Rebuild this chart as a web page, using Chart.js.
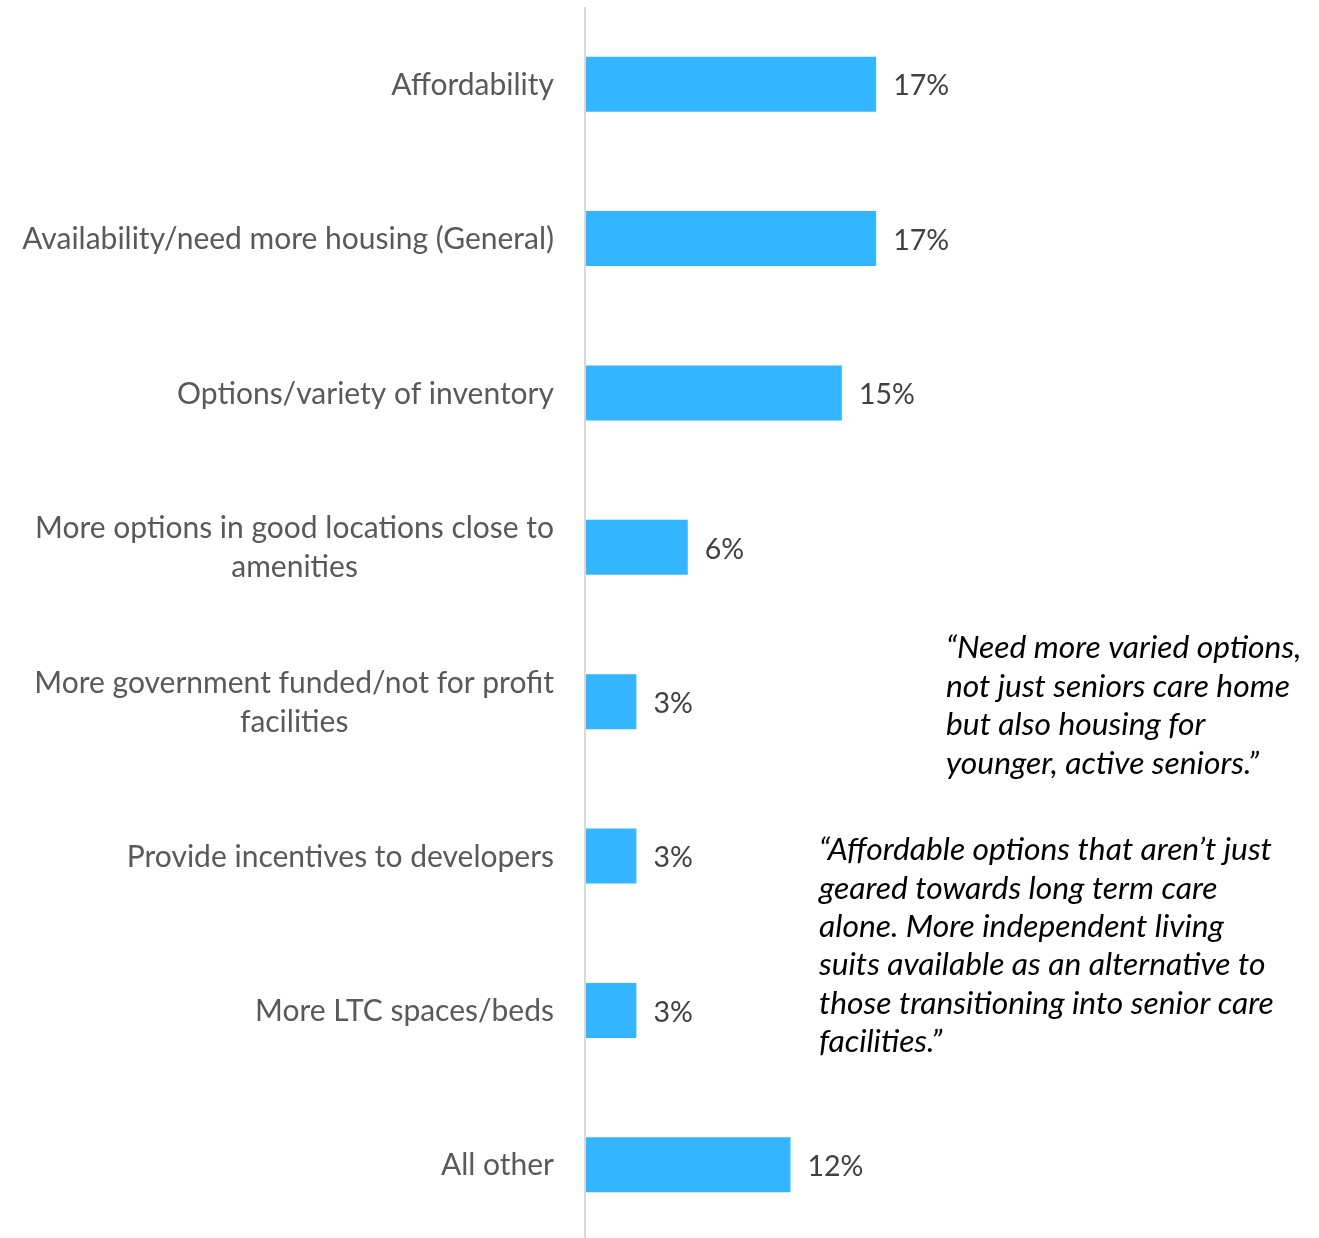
<!DOCTYPE html>
<html>
<head>
<meta charset="utf-8">
<script src="https://cdn.jsdelivr.net/npm/chart.js@4.4.1/dist/chart.umd.min.js"></script>
<style>
  html, body { margin: 0; padding: 0; background: #fff; overflow: hidden; }
  #wrap { position: relative; width: 1319px; height: 1245px; }
</style>
</head>
<body>
<div id="wrap"><canvas id="barChart"></canvas></div>
<script>
const categories = [
    ["Affordability"],
    ["Availability/need more housing (General)"],
    ["Options/variety of inventory"],
    ["More options in good locations close to", "amenities"],
    ["More government funded/not for profit", "facilities"],
    ["Provide incentives to developers"],
    ["More LTC spaces/beds"],
    ["All other"]
];
const shares = [17, 17, 15, 6, 3, 3, 3, 12];

const quoteOne = [
    "\u201CNeed more varied options,",
    "not just seniors care home",
    "but also housing for",
    "younger, active seniors.\u201D"
];
const quoteTwo = [
    "\u201CAffordable options that aren\u2019t just",
    "geared towards long term care",
    "alone. More independent living",
    "suits available as an alternative to",
    "those transitioning into senior care",
    "facilities.\u201D"
];

const FONT = "Lato, 'Open Sans', sans-serif";

// category names, value labels and the two quotes
const labelPlugin = {
    id: "labels",
    afterDraw(chart) {
        const ctx = chart.ctx;
        const yScale = chart.scales.y;
        const meta = chart.getDatasetMeta(0);
        ctx.save();
        ctx.textBaseline = "middle";

        ctx.font = "30px " + FONT;
        ctx.fillStyle = "#595959";
        categories.forEach((lines, i) => {
            const y = yScale.getPixelForTick(i);
            const widest = Math.max(...lines.map(l => ctx.measureText(l).width));
            const cx = 554 - widest / 2;
            const lh = 39;
            const y0 = y - (lines.length - 1) * lh / 2 + 1;
            ctx.textAlign = "center";
            lines.forEach((l, k) => ctx.fillText(l, cx, y0 + k * lh));
        });

        ctx.font = "28.5px " + FONT;
        ctx.fillStyle = "#404040";
        ctx.textAlign = "left";
        meta.data.forEach((bar, i) => {
            ctx.fillText(shares[i] + "%", bar.x + 17, bar.y + 2);
        });

        ctx.font = "italic 31.8px " + FONT;
        ctx.fillStyle = "#000000";
        quoteOne.forEach((l, k) => ctx.fillText(l, 946, 648 + k * 38.6));
        quoteTwo.forEach((l, k) => ctx.fillText(l, 819, 850 + k * 38.4));
        ctx.restore();
    }
};

new Chart(document.getElementById("barChart"), {
    type: "bar",
    data: {
        labels: categories,
        datasets: [{
            data: shares,
            backgroundColor: "#33B5FF",
            categoryPercentage: 1,
            barPercentage: 0.356
        }]
    },
    options: {
        indexAxis: "y",
        responsive: true,
        maintainAspectRatio: false,
        animation: false,
        layout: {
            padding: { left: 585, right: 49, top: 7, bottom: 3 }
        },
        scales: {
            x: {
                min: 0,
                max: 40,
                ticks: { display: false },
                border: { display: false },
                grid: {
                    drawTicks: false,
                    lineWidth: 2,
                    color: c => c.tick && c.tick.value === 0 ? "#d9d9d9" : "rgba(0,0,0,0)"
                }
            },
            y: {
                display: false
            }
        },
        plugins: {
            legend: { display: false },
            tooltip: { enabled: false }
        }
    },
    plugins: [labelPlugin]
});
</script>
</body>
</html>
